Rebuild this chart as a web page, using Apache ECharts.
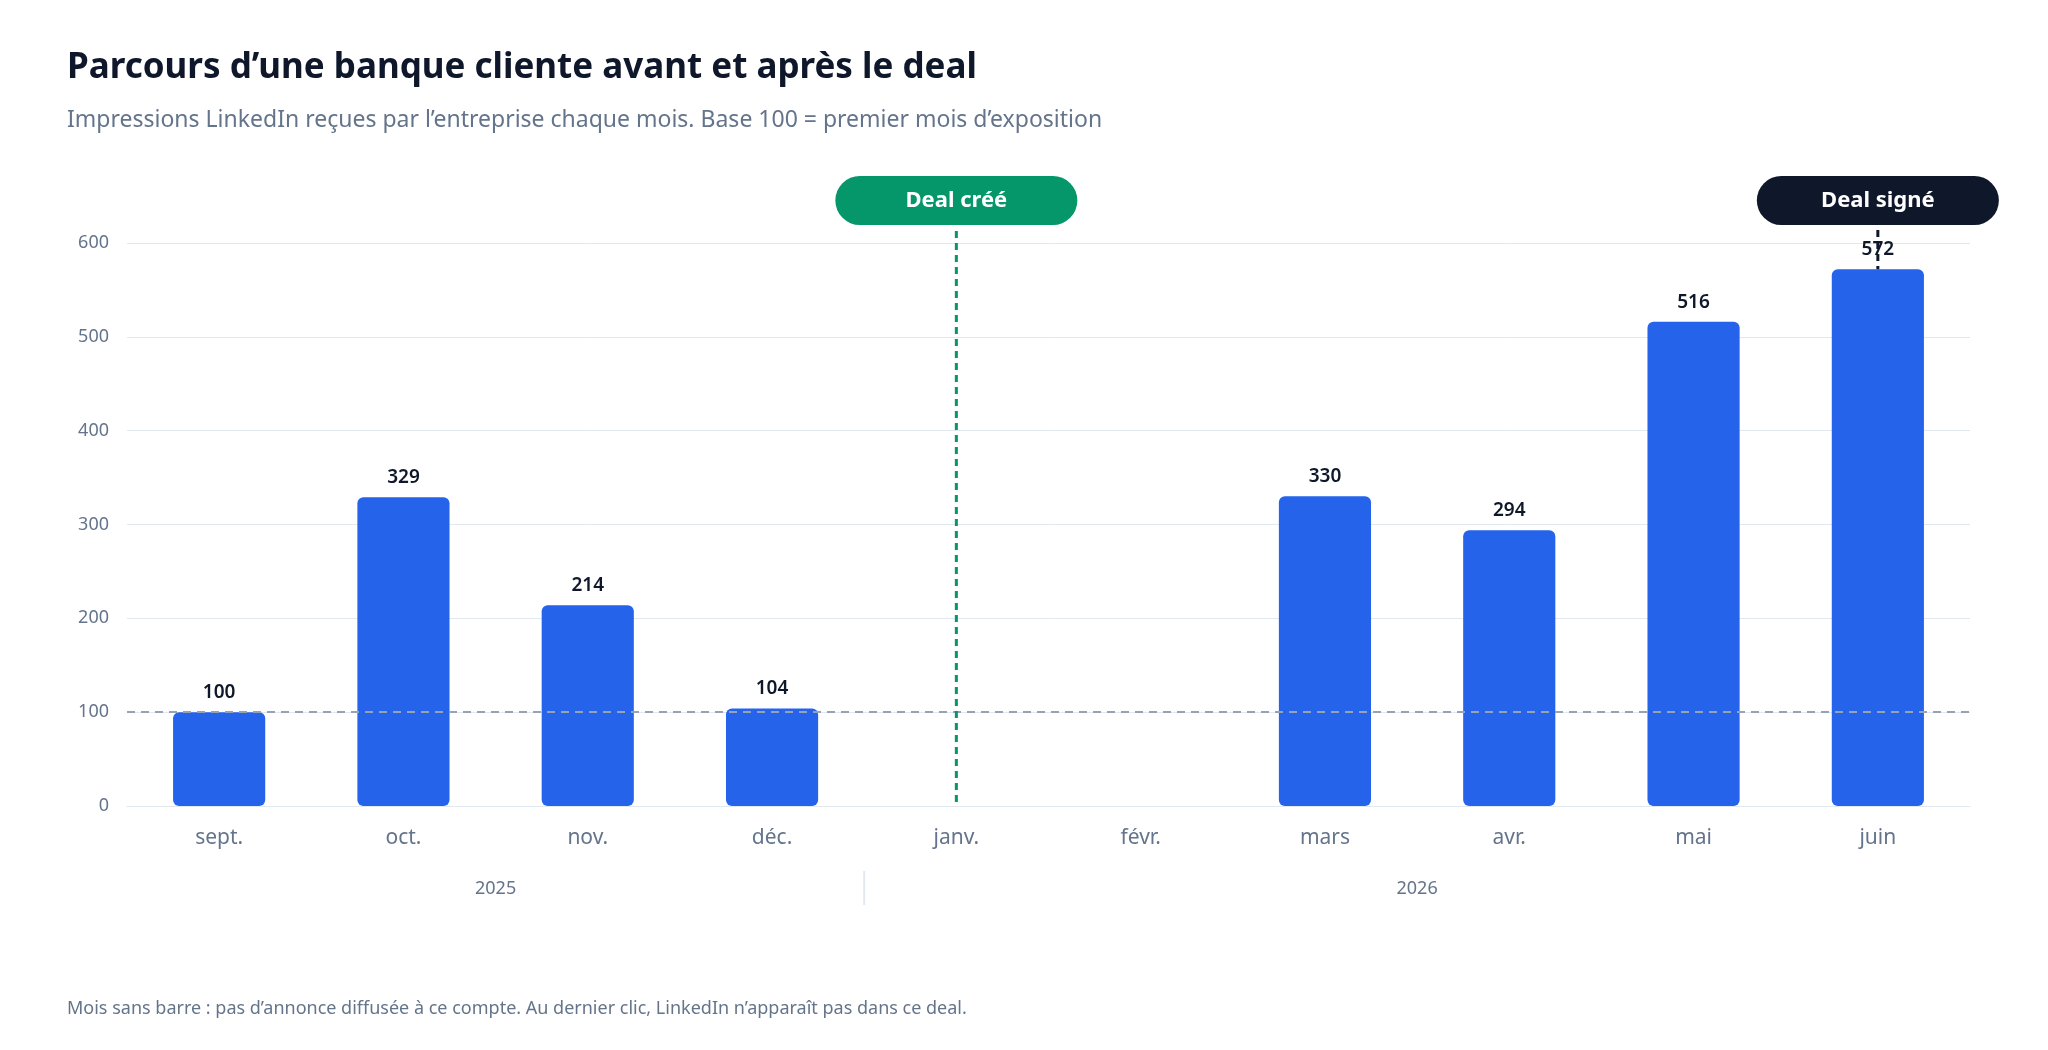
<!DOCTYPE html>
<html><head><meta charset="utf-8">
<script src="https://cdn.jsdelivr.net/npm/echarts@6/dist/echarts.min.js"></script>
<style>html,body{margin:0;padding:0;background:#fff}#c{width:2048px;height:1050px}</style>
</head><body><div id="c"></div>
<script>
const months = ['sept.','oct.','nov.','déc.','janv.','févr.','mars','avr.','mai','juin'];
const values = [100,329,214,104,null,null,330,294,516,572];
const yTicks = [0,100,200,300,400,500,600];
const years = [{label:'2025', from:0, to:3},{label:'2026', from:4, to:9}];
const baseline = 100;
const dealCreated = {month:'janv.', label:'Deal créé'};
const dealSigned = {month:'juin', label:'Deal signé'};
const F = '"Noto Sans", sans-serif';
const chart = echarts.init(document.getElementById('c'));
chart.setOption({
  animation:false,
  textStyle:{fontFamily:F},
  title:[{text:'Parcours d’une banque cliente avant et après le deal', left:62, top:46,
    textStyle:{fontSize:35, fontWeight:'bold', color:'#0f172a', fontFamily:F}},
    {text:'Impressions LinkedIn reçues par l’entreprise chaque mois. Base 100 = premier mois d’exposition', left:62, top:104,
    textStyle:{fontSize:23, fontWeight:'normal', color:'#64748b', fontFamily:F}},
    {text:'Mois sans barre : pas d’annonce diffusée à ce compte. Au dernier clic, LinkedIn n’apparaît pas dans ce deal.', left:62, top:995,
    textStyle:{fontSize:18, fontWeight:'normal', color:'#64748b', fontFamily:F}}],
  grid:{left:127, right:78, top:243, bottom:244},
  xAxis:{type:'category', data:months, axisTick:{show:false},
    axisLine:{lineStyle:{color:'#e2e8f0'}},
    axisLabel:{fontSize:21, color:'#64748b', margin:22}},
  yAxis:{type:'value', min:0, max:600, interval:100,
    axisLabel:{fontSize:18, color:'#64748b', margin:18},
    splitLine:{lineStyle:{color:'#e2e8f0'}}},
  series:[{type:'bar', data:values, barWidth:'50%',
    itemStyle:{color:'#2563eb', borderRadius:[6,6,6,6]},
    label:{show:true, position:'top', fontSize:19, fontWeight:600, color:'#0f172a', distance:10},
    markLine:{symbol:'none', silent:true, label:{show:false},
      lineStyle:{type:[8,6], color:'#94a3b8', width:2},
      data:[{yAxis:baseline}]}}]
});
function px(i,v){return chart.convertToPixel({xAxisIndex:0,yAxisIndex:0},[i,v]);}
const g=[];
const top0 = px(0,600)[1], bottom0 = px(0,0)[1];
// deal created
const xc = px(months.indexOf(dealCreated.month),0)[0];
g.push({type:'line', shape:{x1:xc,y1:231,x2:xc,y2:bottom0}, style:{stroke:'#059669', lineWidth:3, lineDash:[7,5]}, z:10});
g.push({type:'rect', shape:{x:xc-121,y:176,width:242,height:49,r:24.5}, style:{fill:'#059669'}, z:11});
g.push({type:'text', x:xc, y:200.5, style:{text:dealCreated.label, fill:'#fff', font:'bold 22px '+F, align:'center', verticalAlign:'middle'}, z:12});
// deal signed
const si = months.indexOf(dealSigned.month);
const xs = px(si,0)[0], ys = px(si,values[si])[1];
g.push({type:'line', shape:{x1:xs,y1:230,x2:xs,y2:ys}, style:{stroke:'#0f172a', lineWidth:3, lineDash:[7,5]}, z:10});
g.push({type:'rect', shape:{x:xs-121,y:176,width:242,height:49,r:24.5}, style:{fill:'#0f172a'}, z:11});
g.push({type:'text', x:xs, y:200.5, style:{text:dealSigned.label, fill:'#fff', font:'bold 22px '+F, align:'center', verticalAlign:'middle'}, z:12});
// years
const half = (px(1,0)[0]-px(0,0)[0])/2;
years.forEach((y,k)=>{
  const a=px(y.from,0)[0], b=px(y.to,0)[0];
  g.push({type:'text', x:(a+b)/2, y:889, style:{text:y.label, fill:'#64748b', font:'18px '+F, align:'center', verticalAlign:'middle'}});
  if(k>0){const sx=a-half; g.push({type:'line', shape:{x1:sx,y1:871,x2:sx,y2:905}, style:{stroke:'#e2e8f0', lineWidth:2}});}
});
chart.setOption({graphic:g});
</script></body></html>
